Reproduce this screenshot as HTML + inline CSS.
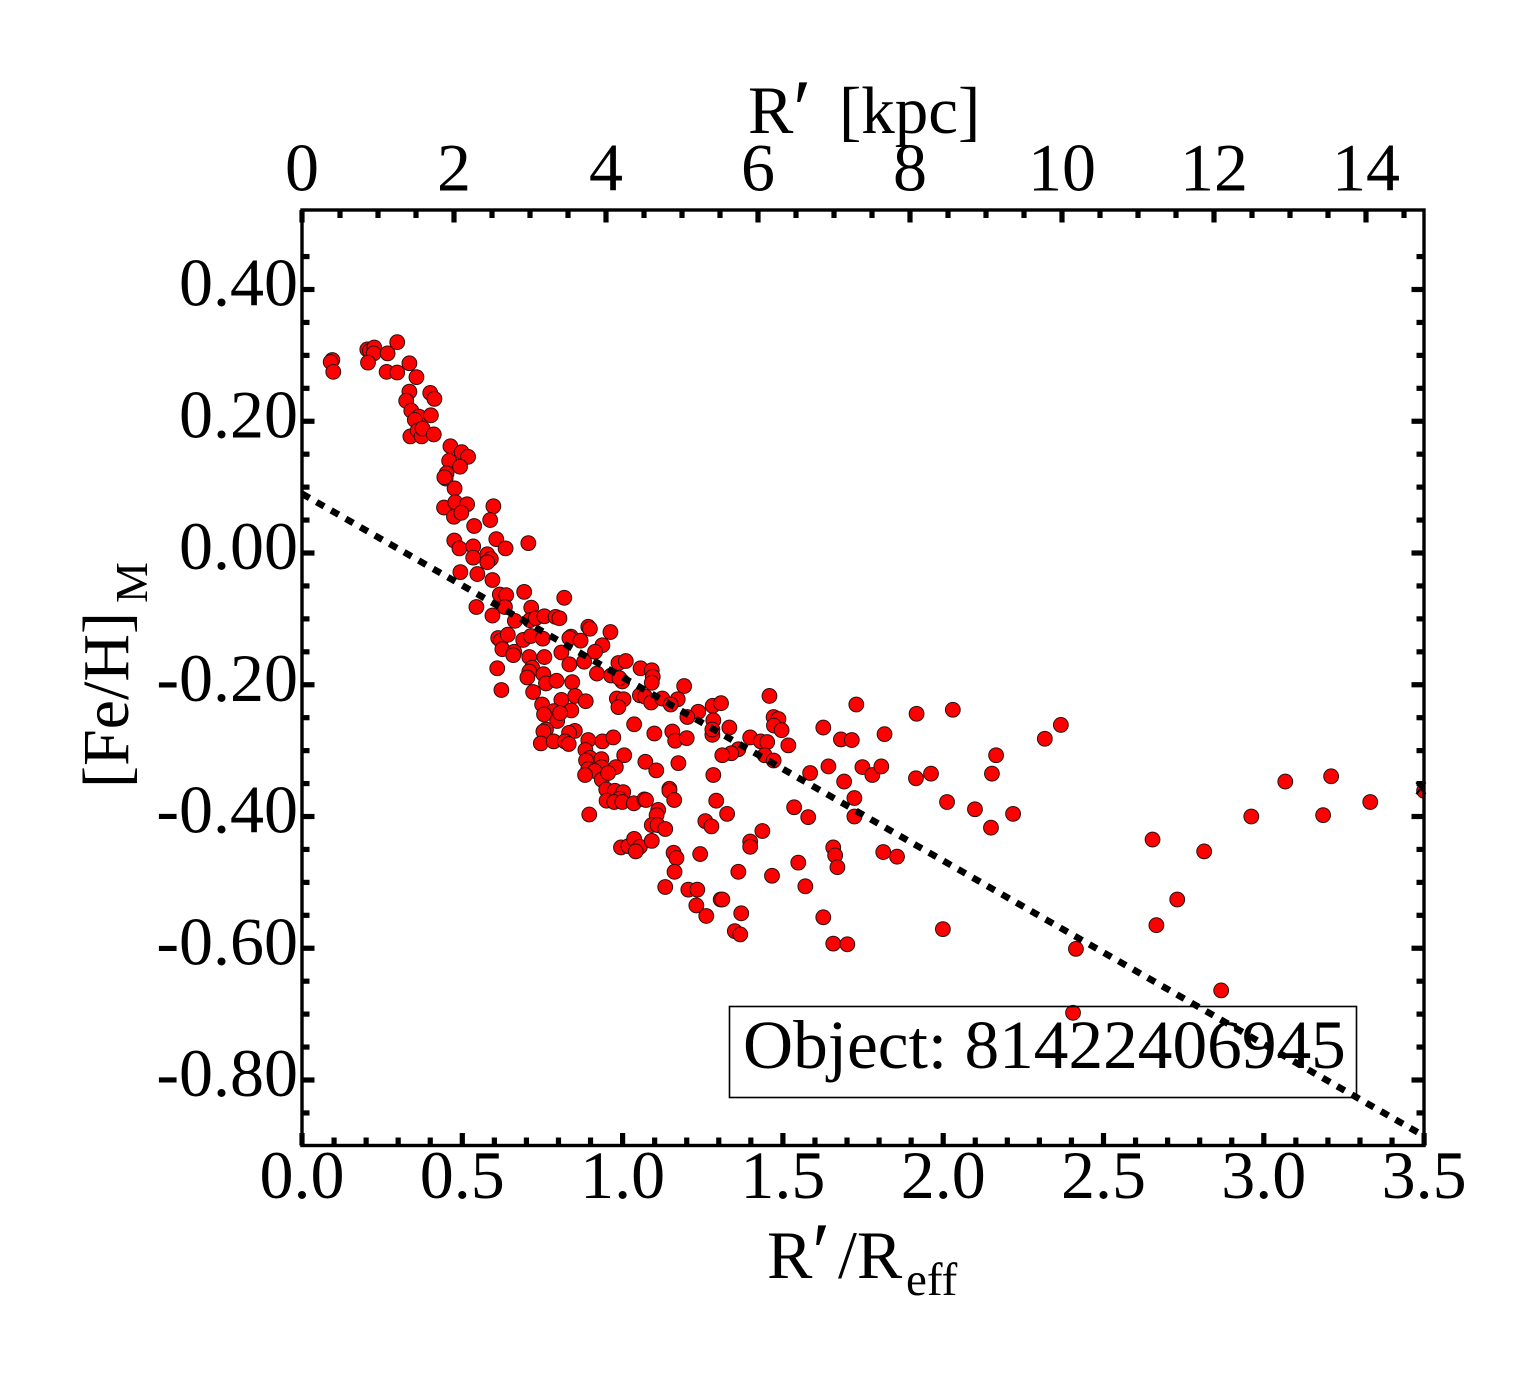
<!DOCTYPE html>
<html lang="en">
<head>
<meta charset="utf-8">
<title>[Fe/H] radial profile</title>
<style>
html,body{margin:0;padding:0;background:#fff;}
svg{display:block;}
text{font-family:"Liberation Serif",serif;fill:#000;}
</style>
</head>
<body>
<svg id="chart" xmlns="http://www.w3.org/2000/svg" width="1540" height="1375" viewBox="0 0 1540 1375">
<rect x="0" y="0" width="1540" height="1375" fill="#fff"/>
<defs><clipPath id="plot-clip"><rect x="302" y="210" width="1122" height="936"/></clipPath></defs>
<g id="points" clip-path="url(#plot-clip)"></g>
<g id="cross-layer"></g>
<rect x="729.5" y="1006.5" width="627" height="91" fill="none" stroke="#000" stroke-width="1.6"/>
<text x="743" y="1068" font-size="69.35">Object: 81422406945</text>
<g id="fit-layer" clip-path="url(#plot-clip)"></g>
<g id="axes"></g>
<text font-size="68" y="133"><tspan x="748">R</tspan><tspan x="793" y="137" font-size="84">′</tspan><tspan x="839" y="133" font-size="67">[kpc]</tspan></text>
<text font-size="68" y="1278"><tspan x="767">R</tspan><tspan x="812" y="1280" font-size="84">′</tspan><tspan x="838" y="1278">/R</tspan><tspan x="906" y="1295" font-size="47">eff</tspan></text>
<text transform="translate(128,788) rotate(-90)" font-size="66" x="0" y="0">[Fe/H]<tspan x="185" y="19" font-size="46">M</tspan></text>
</svg>
<script>
var ratioValues = [
.0945,.0895,.0976,.2037,.2121,.2255,.2236,.2059,.267,.297,.264,.297,.335,.357,.335,.325,.400,.413,.341,.365,.402,.352,.338,.361,.373,.376,.411,.463,.498,.518,.459,.493,.451,.448,.444,.476,.443,.478,.515,.474,.497,.597,.587,.537,.475,.491,.534,.534,.578,.589,.578,.606,.635,.706,.494,.547,.594,.617,.637,.693,.818,.544,.594,.633,.715,.664,.711,.729,.756,.791,.803,.893,.898,.962,.612,.620,.642,.625,.662,.659,.690,.714,.751,.709,.756,.809,.834,.839,.834,.869,.937,.914,.880,.920,.987,1.010,.964,.999,.990,1.056,1.091,1.094,1.091,1.192,1.054,1.070,1.089,1.124,1.172,1.150,.982,1.003,.987,.609,.622,.721,.718,.709,.703,.753,.761,.794,.843,.749,.809,.852,.885,.840,.785,.755,.796,.805,.761,.753,.851,.833,.745,.785,.820,.832,.893,.937,.971,.884,1.005,.898,.886,.934,.935,.893,.979,.913,.883,.935,.955,1.071,1.105,1.174,1.036,1.099,1.155,1.164,1.200,.949,.976,1.002,.990,.950,.974,.999,1.035,1.068,1.073,.896,1.146,1.146,1.161,1.111,1.106,1.091,1.109,1.133,.995,1.018,1.036,1.054,1.041,1.091,1.159,1.168,1.162,1.242,1.292,1.283,1.326,1.258,1.277,1.436,1.398,1.398,1.458,1.471,1.486,1.472,1.496,1.236,1.281,1.307,1.202,1.283,1.280,1.280,1.333,1.398,1.431,1.451,1.443,1.471,1.361,1.339,1.311,1.361,1.466,1.729,1.626,1.817,1.517,1.681,1.715,1.585,1.642,1.691,1.748,1.779,1.807,1.723,1.723,1.535,1.579,1.813,1.856,1.657,1.663,1.670,1.548,1.570,1.133,1.205,1.233,1.230,1.261,1.306,1.311,1.370,1.350,1.367,1.626,1.657,1.701,1.917,2.030,1.915,1.962,2.012,2.099,2.152,2.165,2.149,2.218,2.317,2.367,1.999,2.414,2.405,2.653,2.665,2.730,2.814,2.867,2.961,3.067,3.185,3.210,3.332,3.5
];
var metallicityValues = [
.293,.290,.275,.309,.307,.312,.303,.289,.303,.320,.275,.274,.288,.267,.245,.231,.243,.234,.216,.207,.209,.202,.177,.186,.177,.189,.180,.162,.153,.146,.140,.131,.121,.113,.115,.098,.069,.077,.074,.055,.061,.071,.050,.041,.019,.007,.010,-.007,-.002,-.009,-.014,.021,.007,.015,-.029,-.032,-.041,-.063,-.064,-.059,-.068,-.082,-.095,-.082,-.083,-.103,-.102,-.099,-.096,-.097,-.099,-.112,-.115,-.120,-.129,-.133,-.124,-.146,-.150,-.155,-.132,-.126,-.130,-.158,-.158,-.151,-.169,-.127,-.129,-.133,-.140,-.150,-.165,-.183,-.167,-.164,-.186,-.195,-.190,-.175,-.178,-.188,-.197,-.202,-.216,-.218,-.227,-.221,-.222,-.230,-.221,-.222,-.234,-.175,-.208,-.211,-.174,-.180,-.189,-.184,-.198,-.194,-.196,-.230,-.223,-.217,-.225,-.239,-.240,-.245,-.255,-.243,-.268,-.271,-.270,-.273,-.289,-.286,-.286,-.290,-.284,-.286,-.280,-.299,-.307,-.311,-.315,-.313,-.325,-.328,-.325,-.331,-.337,-.344,-.334,-.317,-.330,-.319,-.260,-.274,-.271,-.285,-.281,-.359,-.361,-.363,-.373,-.376,-.378,-.378,-.380,-.374,-.375,-.397,-.358,-.361,-.375,-.390,-.398,-.413,-.413,-.419,-.447,-.445,-.434,-.446,-.453,-.437,-.455,-.463,-.484,-.457,-.376,-.337,-.396,-.407,-.415,-.422,-.438,-.446,-.217,-.249,-.252,-.262,-.269,-.241,-.232,-.228,-.249,-.254,-.276,-.268,-.265,-.280,-.286,-.287,-.307,-.315,-.298,-.304,-.307,-.484,-.490,-.230,-.265,-.275,-.292,-.283,-.284,-.334,-.324,-.347,-.325,-.337,-.324,-.372,-.400,-.386,-.401,-.454,-.461,-.447,-.459,-.477,-.470,-.506,-.507,-.511,-.511,-.535,-.551,-.526,-.526,-.547,-.574,-.579,-.553,-.593,-.594,-.244,-.238,-.342,-.335,-.378,-.389,-.335,-.307,-.417,-.396,-.282,-.261,-.571,-.601,-.698,-.435,-.565,-.526,-.453,-.664,-.400,-.347,-.398,-.339,-.378,-.361
];
var excludedRatio = [3.49];
var excludedMetallicity = [-.357];
var fitRatio = [0, 3.5];
var fitMetallicity = [.09, -.885];
var bottomTickLabels = ["0.0","0.5","1.0","1.5","2.0","2.5","3.0","3.5"];
var topTickLabels = ["0","2","4","6","8","10","12","14"];
var leftTickLabels = ["0.40","0.20","0.00","-0.20","-0.40","-0.60","-0.80"];

var NS = "http://www.w3.org/2000/svg";
function xScale(v){ return 302 + v * 320.6; }
function yScale(v){ return 553 - v * 658.75; }
function kpcScale(v){ return 302 + v * 76; }
function make(tag, attrs, parent){
  var el = document.createElementNS(NS, tag);
  for (var k in attrs){ el.setAttribute(k, attrs[k]); }
  parent.appendChild(el);
  return el;
}
var pointsLayer = document.getElementById("points");
ratioValues.forEach(function(v, i){
  var c = make("circle", {cx: xScale(v), cy: yScale(metallicityValues[i]), r: 7.4, fill: "#ff0000", stroke: "#2a1010", "stroke-width": 1}, pointsLayer);
  
  
});
var crossLayer = document.getElementById("cross-layer");
excludedRatio.forEach(function(v, i){
  var cx = xScale(v), cy = yScale(excludedMetallicity[i]);
  var p = make("path", {d: "M" + (cx-4.5) + " " + (cy-6) + "L" + (cx+4.5) + " " + (cy+6) + "M" + (cx-4.5) + " " + (cy+6) + "L" + (cx+4.5) + " " + (cy-6), stroke: "#000", "stroke-width": 2.4, fill: "none"}, crossLayer);
  
  
});
var fitLayer = document.getElementById("fit-layer");
var fit = make("line", {x1: xScale(fitRatio[0]), y1: yScale(fitMetallicity[0]), x2: xScale(fitRatio[1]), y2: yScale(fitMetallicity[1]), stroke: "#000", "stroke-width": 6.6, "stroke-dasharray": "8.6 8.2", "stroke-dashoffset": "0"}, fitLayer);



var axes = document.getElementById("axes");
var frame = make("rect", {x: 302, y: 210, width: 1122, height: 935.5, fill: "none", stroke: "#000", "stroke-width": 3.4}, axes);



function tick(x1, y1, x2, y2, name){
  var t = make("line", {x1: x1, y1: y1, x2: x2, y2: y2, stroke: "#000", "stroke-width": 5.2}, axes);
  
  
}
function label(txt, x, y, anchor, name){
  var t = make("text", {x: x, y: y, "text-anchor": anchor, "font-size": 68}, axes);
  t.textContent = txt;
  
  
}
var i, v, px, len;
for (i = 0; i <= 35; i++){
  v = i / 10;
  px = xScale(v);
  len = i % 5 === 0 ? 12.5 : 8;
  tick(px, 1145.5, px, 1145.5 - len, 'bottom-tick');
}
for (i = 0; i <= 29; i++){
  v = i / 2;
  px = kpcScale(v);
  len = i % 4 === 0 ? 12.5 : 8;
  tick(px, 210, px, 210 + len, 'top-tick');
}
for (i = -17; i <= 9; i++){
  v = i * 0.05;
  px = yScale(v);
  len = i % 4 === 0 ? 12.5 : 7.5;
  tick(302, px, 302 + len, px, 'left-tick');
  tick(1424, px, 1424 - len, px, 'right-tick');
}
bottomTickLabels.forEach(function(s){
  label(s, xScale(parseFloat(s)), 1198, "middle", 'x-tick-label');
});
topTickLabels.forEach(function(s){
  label(s, kpcScale(parseFloat(s)), 190.5, "middle", 'top-tick-label');
});
leftTickLabels.forEach(function(s){
  label(s, 298, yScale(parseFloat(s)) + 16, "end", 'y-tick-label');
});
</script>
</body>
</html>
